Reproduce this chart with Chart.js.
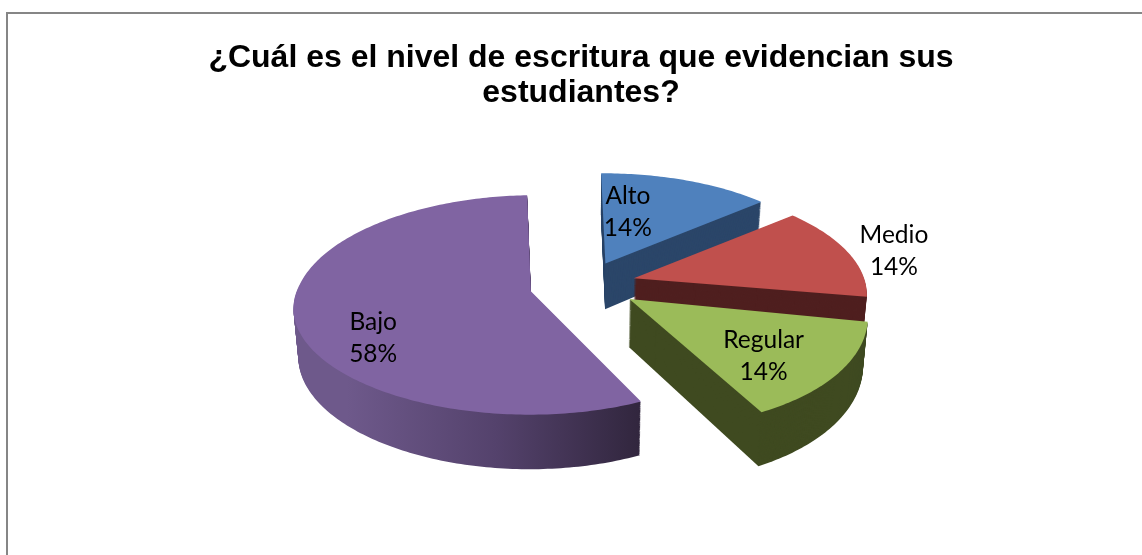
<!DOCTYPE html>
<html>
<head>
<meta charset="utf-8">
<title>Nivel de escritura</title>
<script src="https://cdn.jsdelivr.net/npm/chart.js@4"></script>
<style>
  html, body { margin: 0; background: #fff; overflow: hidden; }
  #box { position: absolute; left: 6px; top: 12px; width: 1146px; height: 541px; border-left: 2px solid #868686; border-top: 2px solid #868686; }
</style>
</head>
<body>
<div id="box"><canvas id="chart" width="1146" height="541"></canvas></div>
<script>
// Data
const categories = ['Alto', 'Medio', 'Regular', 'Bajo'];
const values = [14, 14, 14, 58];
const topColors = ['#4f81bd', '#c0504d', '#9bbb59', '#8064a2'];
const wallColors = ['#2b4669', '#4f1f1f', '#3f4a20', null];
const titleLines = ['¿Cuál es el nivel de escritura que evidencian sus', 'estudiantes?'];

// 3D look
const pieRadius = 232;
const explode = [0.22, 0.22, 0.23, 0.24];
const tilt = 0.461, persp = 0.13, depth = 47, sink = 0.00036, shiftX = 4;
const leanX = 8, leanY = 8; // near side of the pie drifts a little, like the original

// Label placement: along the slice, then a small nudge
const labelFrac = [0.61, 1.25, 0.7, 0.65];
const labelNudge = [[-29, 1], [-4, 6], [-9, 7], [-6, 29]];

// Maps pie plane pixels to the tilted view
function project(c, px, py, d) {
  const u = (px - c.x) / c.outerRadius, v = (py - c.y) / c.outerRadius;
  const w = 1 - persp * v;
  const f = 1 - sink * d;
  const near = Math.max(v, 0);
  return [
    c.x + shiftX + c.outerRadius * u / w * f - leanX * near * near,
    c.y + tilt * c.outerRadius * v / w + d / w + leanY * u * near
  ];
}

// Small stand-in for the canvas context so ArcElement.draw paths go through project()
function tiltedContext(real, c, d, fill) {
  let tx = 0, ty = 0, first = true;
  const stack = [];
  const put = (x, y) => {
    const p = project(c, x + tx, y + ty, d);
    if (first) { real.moveTo(p[0], p[1]); first = false; } else real.lineTo(p[0], p[1]);
  };
  // the element grows its radius by the offset, keep every point on the real circle
  const clamped = (x, y) => {
    const dist = Math.hypot(x - c.x, y - c.y);
    const s = dist > c.outerRadius ? c.outerRadius / dist : 1;
    put(c.x + (x - c.x) * s, c.y + (y - c.y) * s);
  };
  return {
    save() { stack.push([tx, ty]); },
    restore() { [tx, ty] = stack.pop(); },
    translate(x, y) { tx += x; ty += y; },
    beginPath() { real.beginPath(); first = true; },
    moveTo: clamped,
    lineTo: clamped,
    closePath() { real.closePath(); },
    arc(x, y, r, a0, a1) {
      const rr = r > 0 ? c.outerRadius : 0;
      const steps = Math.max(2, Math.ceil(Math.abs(a1 - a0) * 60));
      for (let i = 0; i <= steps; i++) {
        const a = a0 + (a1 - a0) * i / steps;
        put(x + Math.cos(a) * rr, y + Math.sin(a) * rr);
      }
    },
    fill() { real.fillStyle = fill; real.fill(); },
    stroke() {},
    clip() {}
  };
}

const tiltedPie = {
  id: 'tiltedPie',
  beforeDatasetDraw(chart) {
    const ctx = chart.ctx;
    const arcs = chart.getDatasetMeta(0).data;
    const c = arcs[0];
    // the big slice wall gets darker towards the right
    const shade = ctx.createLinearGradient(c.x + shiftX - 238, 0, c.x + shiftX + 60, 0);
    shade.addColorStop(0, '#6e598b');
    shade.addColorStop(0.5, '#54426c');
    shade.addColorStop(1, '#30253c');
    ctx.save();
    arcs.forEach((arc, i) => {
      for (let d = depth; d > 0; d--) arc.draw(tiltedContext(ctx, c, d, wallColors[i] || shade));
      arc.draw(tiltedContext(ctx, c, 0, topColors[i]));
    });
    ctx.restore();
    return false;
  },
  afterDatasetsDraw(chart) {
    const ctx = chart.ctx;
    const arcs = chart.getDatasetMeta(0).data;
    const c = arcs[0];
    ctx.save();
    ctx.font = '24.5px Lato';
    ctx.fillStyle = '#000';
    ctx.textAlign = 'center';
    ctx.textBaseline = 'middle';
    arcs.forEach((arc, i) => {
      const mid = (arc.startAngle + arc.endAngle) / 2;
      const r = c.outerRadius * (explode[i] + labelFrac[i]);
      const p = project(c, c.x + Math.cos(mid) * r, c.y + Math.sin(mid) * r, 0);
      const x = p[0] + labelNudge[i][0], y = p[1] + labelNudge[i][1];
      ctx.fillText(categories[i], x, y - 16);
      ctx.fillText(values[i] + '%', x, y + 16);
    });
    ctx.restore();
  }
};

new Chart(document.getElementById('chart'), {
  type: 'pie',
  data: {
    labels: categories,
    datasets: [{
      data: values,
      backgroundColor: topColors,
      borderWidth: 0,
      offset: explode.map(e => e * pieRadius * 4),
      radius: pieRadius
    }]
  },
  options: {
    responsive: false,
    animation: false,
    events: [],
    rotation: -1,
    layout: { padding: { bottom: 100 } },
    plugins: {
      legend: { display: false },
      tooltip: { enabled: false },
      title: {
        display: true,
        text: titleLines,
        color: '#000',
        font: { family: '"Liberation Sans"', size: 32, weight: 'bold', lineHeight: 1.09 },
        padding: { top: 27, bottom: 3 }
      }
    }
  },
  plugins: [tiltedPie]
});
</script>
</body>
</html>
